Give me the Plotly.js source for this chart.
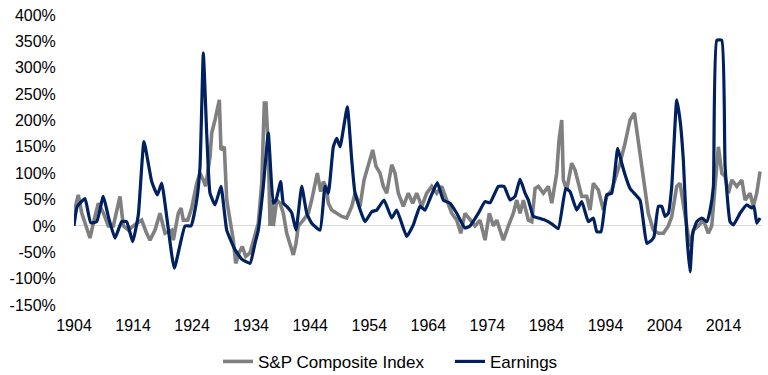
<!DOCTYPE html>
<html>
<head>
<meta charset="utf-8">
<script src="https://cdn.plot.ly/plotly-3.0.1.min.js"></script>
<style>html,body{margin:0;padding:0;background:#fff}#chart{width:768px;height:375px}</style>
</head>
<body>
<div id="chart"></div>
<script>
// Earnings (percent change)
const earnYears = [1904.00,1904.56,1905.86,1906.83,1907.84,1908.96,1909.81,1910.94,1912.08,1912.92,1913.94,1914.89,1915.85,1917.16,1918.11,1918.85,1920.98,1922.80,1923.81,1924.78,1925.34,1925.90,1926.47,1927.03,1927.88,1928.89,1929.86,1931.26,1932.40,1933.81,1934.65,1935.21,1936.06,1936.90,1937.75,1938.21,1939.00,1939.44,1940.02,1940.86,1941.59,1942.56,1943.41,1944.25,1945.66,1946.51,1947.07,1947.91,1948.49,1949.05,1950.28,1951.03,1951.59,1953.28,1954.41,1955.26,1956.50,1957.80,1958.65,1960.34,1961.46,1962.59,1963.44,1964.29,1965.52,1966.54,1967.67,1968.81,1970.21,1971.06,1972.47,1973.60,1974.45,1975.86,1976.82,1977.84,1978.68,1979.53,1980.38,1980.94,1981.78,1982.63,1983.76,1984.90,1986.01,1987.27,1988.00,1989.13,1989.98,1991.10,1991.94,1992.52,1993.24,1994.21,1995.05,1996.07,1996.75,1997.31,1998.16,1999.85,2000.99,2001.83,2002.22,2002.95,2003.52,2004.08,2004.64,2005.22,2006.06,2006.62,2007.18,2007.76,2008.32,2008.77,2009.45,2010.30,2011.15,2011.71,2012.27,2012.84,2013.69,2014.25,2015.09,2015.65,2016.78,2017.92,2018.76,2019.15,2019.61,2020.17];
const earnValues = [0,37,52,6,8,56,18,-23,8,8,-30,21,160,84,59,81,-80,0,0,49,113,328,176,62,40,75,-8,-45,-63,-71,-33,-8,75,176,43,49,84,43,37,25,-8,75,24,5,-8,75,62,150,166,150,226,125,62,8,27,30,49,15,30,-20,2,37,30,52,82,49,43,24,-4,0,24,46,44,75,75,49,56,89,62,49,18,15,11,4,-5,71,65,30,46,8,15,-11,-11,59,62,147,119,97,71,49,-33,-27,-20,37,37,18,24,75,239,201,125,-14,-87,-14,8,15,8,30,75,352,352,113,8,2,24,40,34,37,5,15];

// S&P Composite Index (percent change)
const spxYears = [1904.00,1904.73,1905.30,1906.03,1906.71,1907.39,1908.12,1908.96,1909.81,1910.66,1911.79,1912.35,1913.20,1914.04,1915.46,1916.19,1916.87,1917.72,1918.56,1919.41,1920.55,1920.82,1921.66,1922.12,1922.51,1923.26,1923.93,1924.78,1925.34,1925.90,1926.30,1927.03,1927.32,1927.88,1928.61,1928.89,1929.45,1929.86,1930.42,1930.98,1931.38,1931.94,1932.50,1933.08,1933.81,1934.36,1935.21,1935.79,1936.23,1936.51,1936.90,1937.19,1937.48,1937.75,1938.33,1938.89,1939.44,1940.02,1940.58,1941.14,1941.59,1941.98,1942.83,1943.68,1944.25,1944.81,1945.20,1945.78,1946.22,1946.68,1947.07,1947.64,1948.49,1949.33,1950.18,1951.03,1951.59,1952.43,1953.11,1953.84,1954.58,1955.14,1955.82,1956.38,1956.95,1957.80,1958.36,1958.92,1959.77,1960.61,1961.36,1962.03,1962.88,1963.73,1964.58,1965.42,1966.27,1967.12,1967.96,1968.81,1969.49,1970.21,1971.06,1971.91,1972.75,1973.60,1974.33,1975.01,1975.58,1976.70,1977.55,1978.39,1978.97,1979.53,1980.09,1980.94,1981.51,1982.07,1982.63,1983.48,1984.32,1984.90,1985.74,1986.13,1986.59,1986.86,1987.43,1988.28,1988.84,1989.40,1989.98,1990.82,1991.38,1991.94,1992.79,1993.64,1994.21,1995.05,1995.61,1996.46,1997.31,1998.16,1998.89,1999.56,2000.14,2000.70,2001.25,2002.10,2002.95,2003.80,2004.64,2005.22,2006.06,2006.62,2007.18,2007.76,2008.32,2008.88,2009.73,2010.57,2011.42,2011.99,2012.55,2013.11,2013.69,2014.25,2014.81,2015.39,2016.23,2017.08,2017.64,2018.48,2019.03,2019.61,2020.17];
const spxValues = [25,59,25,2,-23,11,43,25,0,0,56,0,-8,0,11,-11,-27,-8,24,-14,-8,-27,24,34,11,11,34,81,100,87,75,131,176,201,239,144,150,49,11,-27,-71,-51,-39,-58,-51,-27,5,81,233,233,150,0,49,0,49,43,24,-14,-36,-55,-33,0,11,24,49,78,100,65,84,75,43,30,24,18,15,37,62,37,87,113,144,113,100,75,62,116,100,62,37,62,43,62,37,62,75,62,75,49,24,11,-14,24,11,0,11,-27,24,0,11,-27,0,24,49,24,49,11,8,71,75,62,75,43,100,163,201,87,68,119,106,81,56,56,30,81,68,30,56,68,87,119,157,201,214,163,113,68,24,-8,-14,-14,0,18,75,81,37,0,-39,-8,0,11,-14,0,75,150,100,94,62,87,75,87,49,62,37,62,103];

// Axis ticks
const xTickVals = [1904,1914,1924,1934,1944,1954,1964,1974,1984,1994,2004,2014];
const xTickText = ['1904','1914','1924','1934','1944','1954','1964','1974','1984','1994','2004','2014'];
const yTickVals = [-150,-100,-50,0,50,100,150,200,250,300,350,400];
const yTickText = ['-150%','-100%','-50%','0%','50%','100%','150%','200%','250%','300%','350%','400%'];

const seriesNames = ['S&P Composite Index', 'Earnings'];

const font = {family: 'Liberation Sans, Arial, sans-serif', size: 16, color: '#000'};
const legendFont = {family: 'Liberation Sans, Arial, sans-serif', size: 17, color: '#000'};

const traces = [
  {x: spxYears, y: spxValues, name: seriesNames[0], type: 'scatter', mode: 'lines',
   line: {color: '#808080', width: 3.6}},
  {x: earnYears, y: earnValues, name: seriesNames[1], type: 'scatter', mode: 'lines',
   line: {color: '#002060', width: 3.2, shape: 'spline', smoothing: 0.4}}
];

const layout = {
  width: 768, height: 375,
  margin: {l: 74, r: 6, t: 15, b: 70},
  paper_bgcolor: '#fff', plot_bgcolor: '#fff',
  font: font,
  showlegend: true,
  legend: {orientation: 'h', xref: 'container', yref: 'container', x: 218/768, xanchor: 'left',
           y: 0.035, yanchor: 'middle', font: legendFont, itemwidth: 30,
           entrywidth: 187, entrywidthmode: 'pixels'},
  xaxis: {range: [1904, 2020.5], tickmode: 'array', tickvals: xTickVals, ticktext: xTickText, showgrid: false, zeroline: false,
          showline: false, ticks: 'outside', ticklen: 6, tickcolor: 'rgba(0,0,0,0)', tickfont: font},
  yaxis: {range: [-150, 400], tickmode: 'array', tickvals: yTickVals, ticktext: yTickText, showgrid: false, zeroline: true,
          zerolinecolor: '#d9d9d9', zerolinewidth: 1, showline: false, ticks: 'outside', ticklen: 14,
          tickcolor: 'rgba(0,0,0,0)', tickfont: font},
  hovermode: false
};

Plotly.newPlot('chart', traces, layout, {displayModeBar: false, staticPlot: true});
</script>
</body>
</html>
